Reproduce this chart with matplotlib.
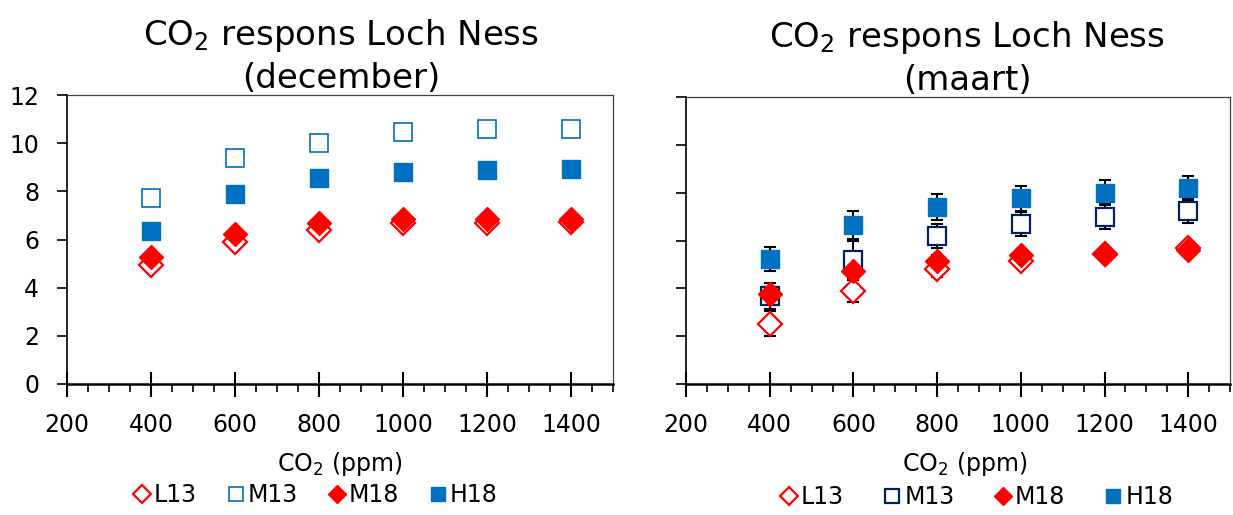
import numpy as np
import matplotlib.pyplot as plt
from matplotlib.ticker import MultipleLocator

# CO2 concentrations (ppm)
co2 = [400, 600, 800, 1000, 1200, 1400]
series = ['L13', 'M13', 'M18', 'H18']

# december
dec_L13 = [4.95, 5.88, 6.40, 6.68, 6.68, 6.72]
dec_M13 = [7.73, 9.39, 10.01, 10.46, 10.57, 10.61]
dec_M18 = [5.28, 6.22, 6.68, 6.86, 6.86, 6.86]
dec_H18 = [6.35, 7.91, 8.57, 8.80, 8.88, 8.93]

# maart (with error bars)
mrt_L13 = [2.53, 3.88, 4.79, 5.13, 5.42, 5.69]
mrt_M13 = [3.67, 5.20, 6.18, 6.68, 7.00, 7.24]
mrt_M18 = [3.78, 4.72, 5.13, 5.38, 5.45, 5.59]
mrt_H18 = [5.23, 6.65, 7.40, 7.76, 8.01, 8.20]
err_L13 = [0.54, 0.45, 0.30, 0.20, 0.15, 0.15]
err_M13 = [0.54, 0.80, 0.50, 0.50, 0.53, 0.52]
err_M18 = [0.20, 0.20, 0.25, 0.20, 0.15, 0.15]
err_H18 = [0.52, 0.57, 0.55, 0.53, 0.52, 0.52]

red = '#FF0000'
blue = '#0070C0'
navy = '#002060'

fig = plt.figure(figsize=(12.33, 5.15), dpi=100)
ax1 = fig.add_axes([0.0543, 0.2544, 0.4428, 0.561])
ax2 = fig.add_axes([0.5564, 0.2544, 0.4412, 0.557])

ms_sq = 13
ms_d = 12
fs = 17

def style_axes(ax, show_ylabels):
    ax.set_xlim(200, 1500)
    ax.set_ylim(0, 12)
    ax.set_xticks([200, 400, 600, 800, 1000, 1200, 1400])
    ax.xaxis.set_minor_locator(MultipleLocator(50))
    ax.set_yticks(range(0, 13, 2))
    ax.tick_params(axis='x', which='major', direction='inout', length=18, width=1.5,
                   labelsize=fs, pad=12)
    ax.tick_params(axis='x', which='minor', direction='out', length=6, width=1.2)
    ax.tick_params(axis='y', which='major', direction='out', length=7, width=1.2,
                   labelsize=fs, labelleft=show_ylabels, pad=13)
    for s in ['top', 'right']:
        ax.spines[s].set_color('#404040')
        ax.spines[s].set_linewidth(0.9)
    ax.spines['bottom'].set_linewidth(1.8)
    ax.spines['left'].set_linewidth(1.2)
    ax.set_xlabel('CO$_2$ (ppm)', fontsize=fs, labelpad=9)

# ── december ──
ax1.plot(co2, dec_L13, ls='none', marker='D', ms=ms_d, mfc='white', mec=red, mew=1.6, label='L13')
ax1.plot(co2, dec_M13, ls='none', marker='s', ms=ms_sq, mfc='white', mec=blue, mew=1.2, label='M13')
ax1.plot(co2, dec_M18, ls='none', marker='D', ms=ms_d, mfc=red, mec=red, mew=1.0, label='M18')
ax1.plot(co2, dec_H18, ls='none', marker='s', ms=ms_sq, mfc=blue, mec=blue, mew=1.0, label='H18')
style_axes(ax1, True)
ax1.set_title('CO$_2$ respons Loch Ness\n(december)', fontsize=24.5, linespacing=1.32, pad=2,
              x=(341 - 67) / 546)

# ── maart ──
eb = dict(fmt='none', ecolor='black', elinewidth=1.5, capsize=4, capthick=1.5, zorder=2)
for vals, errs in [(mrt_L13, err_L13), (mrt_M13, err_M13), (mrt_M18, err_M18), (mrt_H18, err_H18)]:
    ax2.errorbar(co2, vals, yerr=errs, **eb)
ax2.plot(co2, mrt_L13, ls='none', marker='D', ms=ms_d, mfc='white', mec=red, mew=1.6, label='L13', zorder=3)
ax2.plot(co2, mrt_M13, ls='none', marker='s', ms=ms_sq, mfc='white', mec=navy, mew=1.6, label='M13', zorder=3)
ax2.plot(co2, mrt_M18, ls='none', marker='D', ms=ms_d, mfc=red, mec=red, mew=1.0, label='M18', zorder=3)
ax2.plot(co2, mrt_H18, ls='none', marker='s', ms=ms_sq, mfc=blue, mec=blue, mew=1.0, label='H18', zorder=3)
style_axes(ax2, False)
ax2.set_title('CO$_2$ respons Loch Ness\n(maart)', fontsize=24.5, linespacing=1.32, pad=2,
              x=(967 - 686) / 544)
ax2.xaxis.label.set_x((965 - 686) / 544)

# legends below each panel
h1, l1 = ax1.get_legend_handles_labels()
fig.legend(h1, l1, loc='center', bbox_to_anchor=(316 / 1233, 1 - 495 / 515), ncol=4,
           frameon=False, fontsize=fs, handlelength=0.7, handletextpad=0.15,
           columnspacing=1.3, markerscale=0.8)
h2, l2 = ax2.get_legend_handles_labels()
fig.legend(h2, l2, loc='center', bbox_to_anchor=(977 / 1233, 1 - 497 / 515), ncol=4,
           frameon=False, fontsize=fs, handlelength=0.7, handletextpad=0.15,
           columnspacing=1.7, markerscale=0.8)

plt.savefig('out.png', dpi=100)
